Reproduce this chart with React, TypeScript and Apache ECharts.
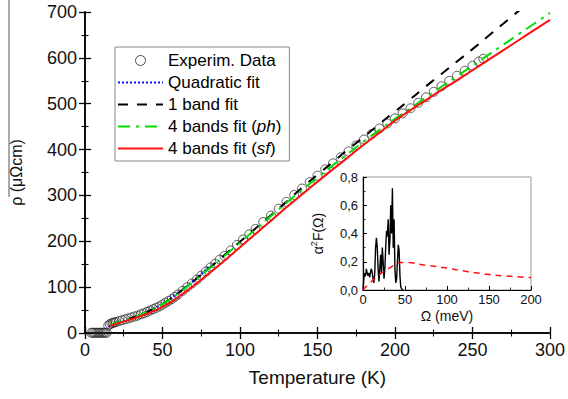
import React, { useEffect, useRef } from "react";
import * as echarts from "echarts";

// Main panel: resistivity vs temperature
const expT = [4, 5, 6, 7, 8, 9, 10, 11, 12, 13, 14, 15, 16, 17, 18, 19, 20, 22, 24, 26, 28, 30, 32, 34, 36, 38, 40, 42, 44, 46, 48, 50, 52, 54, 56, 58, 60, 63, 66, 69, 72, 75, 78, 81, 84, 87, 90, 94, 98, 102, 106, 110, 115, 120, 125, 130, 135, 140, 145, 150, 155, 160, 165, 170, 175, 180, 185, 190, 195, 200, 205, 210, 215, 220, 225, 230, 235, 240, 245, 250, 254, 257];
const expRho = [0.5, 0.5, 0.5, 0.5, 0.5, 0.5, 0.5, 0.5, 0.5, 0.5, 0.5, 16, 19, 21, 22, 23, 24, 26, 28, 30, 32, 34, 36, 38, 41, 43, 46, 49, 52, 55, 58, 62, 66, 70, 74, 79, 84, 92, 100, 108, 116, 125, 134, 143, 151, 160, 168, 180, 192, 204, 215, 227, 242, 256, 271, 286, 301, 315, 329, 343, 357, 370, 383, 396, 409, 422, 434, 446, 457, 468, 479, 490, 502, 514, 526, 538, 550, 561, 572, 583, 592, 598];

const quadT = [15, 20, 25, 30, 35, 40, 45, 50, 55, 60, 65, 70, 75, 80];
const quadRho = [14, 21, 26, 31, 38, 46, 55, 64, 75, 87, 100, 114, 129, 145];

const fitT = [16, 20, 30, 40, 50, 60, 70, 80, 90, 100, 110, 120, 130, 140, 150, 160, 170, 180, 190, 200, 210, 220, 230, 240, 250, 260, 270, 280, 290, 300];
const oneBandRho = [18, 22, 33, 46, 63, 87, 113, 141, 170, 199, 228, 257, 286, 317, 345, 373, 401, 428, 456, 483, 510, 538, 565, 592, 619, 647, 675, 703, 731, 759];
const phRho = [18, 22, 33, 46, 63, 86, 112, 140, 168, 197, 226, 255, 284, 312, 339, 366, 392, 418, 443, 467, 490, 514, 537, 560, 583, 606, 629, 652, 675, 698];
const sfRho = [15, 20, 30, 42, 57, 78, 103, 130, 158, 187, 216, 245, 274, 302, 330, 357, 384, 411, 437, 463, 486, 508, 530, 551, 573, 595, 617, 639, 661, 683];

// Inset: Eliashberg spectral function
const omega = [0, 1, 2, 3, 4, 5, 6, 7, 8, 9, 10, 11, 12, 13, 14, 15, 16, 17, 18, 19, 20, 21, 22, 23, 24, 25, 26, 27, 28, 29, 30, 31, 32, 33, 34, 35, 36, 37, 38, 39, 40, 41, 42, 43, 44, 45, 46, 47, 48];
const a2F = [0, 0.08, 0.12, 0.1, 0.15, 0.12, 0.1, 0.12, 0.09, 0.13, 0.15, 0.12, 0.08, 0.05, 0.12, 0.3, 0.37, 0.3, 0.15, 0.06, 0.15, 0.25, 0.12, 0.3, 0.2, 0.08, 0.15, 0.3, 0.42, 0.38, 0.5, 0.25, 0.35, 0.6, 0.4, 0.72, 0.3, 0.5, 0.15, 0.05, 0.08, 0.2, 0.32, 0.28, 0.1, 0.02, 0.01, 0, 0];
const sfOmega = [0, 10, 20, 30, 40, 45, 50, 75, 100, 125, 150, 175, 200];
const sfA2F = [0, 0.06, 0.11, 0.15, 0.185, 0.195, 0.195, 0.175, 0.155, 0.13, 0.11, 0.097, 0.088];

const xTicksMain = [0, 300, 50];
const yTicksMain = [0, 700, 100];
const xTicksInset = [0, 200, 50];
const yTicksInset = [0, 0.8, 0.2];

const FONT = "'Liberation Sans', Arial, sans-serif";

const zip = (a: number[], b: number[]) => a.map((v, i) => [v, b[i]]);

export default function App() {
  const ref = useRef<HTMLDivElement>(null);
  useEffect(() => {
    if (!ref.current) return;
    const chart = echarts.init(ref.current, undefined, { renderer: "svg" });
    const axisLine = { show: true, lineStyle: { color: "#000", width: 1.5 } };
    const tick = { show: true, inside: true, length: 6, lineStyle: { color: "#000", width: 1.3 } };
    const minor = { show: true, splitNumber: 2, length: 3.5, lineStyle: { color: "#000", width: 1.1 } };
    const itick = { show: true, inside: true, length: 4, lineStyle: { color: "#000", width: 1 } };
    const iminor = { show: true, splitNumber: 2, length: 2.5, lineStyle: { color: "#000", width: 0.8 } };
    const hide = { opacity: 0 };
    const option: any = {
      animation: false,
      textStyle: { fontFamily: FONT },
      grid: [
        { left: 81, right: 16, top: 12, bottom: 66 },
        { left: 363, top: 177, width: 168, height: 113, show: true, borderColor: "#999", borderWidth: 1, backgroundColor: "#fff" },
      ],
      legend: {
        left: 115,
        top: 47,
        orient: "vertical",
        borderColor: "#888",
        borderWidth: 1,
        padding: [5, 8, 4, 2],
        itemGap: 5,
        itemWidth: 45,
        itemHeight: 10,
        backgroundColor: "#fff",
        data: [
          { name: "Experim. Data", itemStyle: { color: "rgba(255,255,255,0)", borderColor: "#222", borderWidth: 1 } },
          { name: "Quadratic fit", itemStyle: hide },
          { name: "1 band fit", itemStyle: hide },
          { name: "4 bands fit (ph)", itemStyle: hide },
          { name: "4 bands fit (sf)", itemStyle: hide },
        ],
        formatter: (name: string) =>
          name.replace("(ph)", "({i|ph})").replace("(sf)", "({i|sf})"),
        textStyle: {
          fontSize: 17,
          color: "#000",
          fontFamily: FONT,
          rich: { i: { fontStyle: "italic", fontSize: 17, fontFamily: FONT, color: "#000" } },
        },
      },
      xAxis: [
        {
          type: "value", gridIndex: 0, min: xTicksMain[0], max: xTicksMain[1], interval: xTicksMain[2],
          position: "bottom", axisLine, axisTick: tick, minorTick: minor, splitLine: { show: false },
          axisLabel: { fontSize: 18, color: "#111", margin: 8, fontFamily: FONT },
          name: "Temperature (K)", nameLocation: "middle", nameGap: 35, nameMoveOverlap: false,
          nameTextStyle: { fontSize: 19, color: "#111", fontFamily: FONT },
        },
        {
          type: "value", gridIndex: 0, min: xTicksMain[0], max: xTicksMain[1], interval: xTicksMain[2],
          position: "top", axisLine, axisTick: tick, minorTick: minor, splitLine: { show: false },
          axisLabel: { show: false },
        },
        {
          type: "value", gridIndex: 1, min: xTicksInset[0], max: xTicksInset[1], interval: xTicksInset[2],
          position: "bottom", axisLine: { show: true, lineStyle: { color: "#000", width: 1.2 } },
          axisTick: itick, minorTick: iminor, splitLine: { show: false },
          axisLabel: { fontSize: 13, color: "#111", margin: 3, fontFamily: FONT },
          name: "Ω (meV)", nameLocation: "middle", nameGap: 19, nameMoveOverlap: false,
          nameTextStyle: { fontSize: 14, color: "#111", fontFamily: FONT },
        },
      ],
      yAxis: [
        {
          type: "value", gridIndex: 0, min: yTicksMain[0], max: yTicksMain[1], interval: yTicksMain[2],
          position: "left", axisLine, axisTick: tick, minorTick: minor, splitLine: { show: false },
          axisLabel: { fontSize: 18, color: "#111", margin: 8, fontFamily: FONT },
          name: "ρ (μΩcm)", nameLocation: "middle", nameGap: 61, nameMoveOverlap: false,
          nameTextStyle: { fontSize: 16, color: "#111", fontFamily: FONT },
        },
        {
          type: "value", gridIndex: 0, min: yTicksMain[0], max: yTicksMain[1], interval: yTicksMain[2],
          position: "right", axisLine, axisTick: tick, minorTick: minor, splitLine: { show: false },
          axisLabel: { show: false },
        },
        {
          type: "value", gridIndex: 1, min: yTicksInset[0], max: yTicksInset[1], interval: yTicksInset[2],
          position: "left", axisLine: { show: true, lineStyle: { color: "#000", width: 1.2 } },
          axisTick: itick, minorTick: iminor, splitLine: { show: false },
          axisLabel: {
            fontSize: 13, color: "#111", margin: 5, fontFamily: FONT,
            formatter: (v: number) => v.toFixed(1).replace(".", ","),
          },
          name: "{a|α}{s|2}{a|F(Ω)}", nameLocation: "middle", nameGap: 37, nameMoveOverlap: false,
          nameTextStyle: {
            fontSize: 14, color: "#111", fontFamily: FONT,
            rich: {
              a: { fontSize: 14, fontFamily: FONT, color: "#111" },
              s: { fontSize: 9, fontFamily: FONT, color: "#111", padding: [0, 0, 8, 0] },
            },
          },
        },
      ],
      series: [
        {
          name: "Experim. Data", type: "scatter", xAxisIndex: 0, yAxisIndex: 0,
          data: zip(expT, expRho), symbol: "circle", symbolSize: 9,
          itemStyle: { color: "rgba(255,255,255,0)", borderColor: "#222", borderWidth: 0.9 }, z: 2,
        },
        {
          name: "Quadratic fit", type: "line", xAxisIndex: 0, yAxisIndex: 0,
          data: zip(quadT, quadRho), symbol: "none", smooth: true,
          itemStyle: { color: "#1010ff" },
          lineStyle: { color: "#1010ff", width: 2, type: [2, 2] }, z: 3,
        },
        {
          name: "1 band fit", type: "line", xAxisIndex: 0, yAxisIndex: 0,
          data: zip(fitT, oneBandRho), symbol: "none", smooth: true,
          itemStyle: { color: "#000" },
          lineStyle: { color: "#000", width: 2, type: [10, 9] }, z: 3,
        },
        {
          name: "4 bands fit (ph)", type: "line", xAxisIndex: 0, yAxisIndex: 0,
          data: zip(fitT, phRho), symbol: "none", smooth: true,
          itemStyle: { color: "#00dd00" },
          lineStyle: { color: "#00dd00", width: 2, type: [12, 6, 3, 6] }, z: 4,
        },
        {
          name: "4 bands fit (sf)", type: "line", xAxisIndex: 0, yAxisIndex: 0,
          data: zip(fitT, sfRho), symbol: "none", smooth: true,
          itemStyle: { color: "#ff1010" },
          lineStyle: { color: "#ff1010", width: 2 }, z: 5,
        },
        {
          name: "a2F", type: "line", xAxisIndex: 2, yAxisIndex: 2,
          data: zip(omega, a2F), symbol: "none",
          lineStyle: { color: "#000", width: 1.4 }, z: 3,
        },
        {
          name: "a2F sf", type: "line", xAxisIndex: 2, yAxisIndex: 2,
          data: zip(sfOmega, sfA2F), symbol: "none", smooth: true,
          lineStyle: { color: "#ff1010", width: 1.5, type: [6, 5] }, z: 4,
        },
      ],
      graphic: [
        { type: "line", shape: { x1: 9, y1: 0, x2: 9, y2: 197 }, style: { stroke: "#555", lineWidth: 1 } },
      ],
    };
    chart.setOption(option);
    return () => chart.dispose();
  }, []);
  return <div ref={ref} style={{ position: "absolute", left: 0, top: 0, width: 568, height: 399 }} />;
}
